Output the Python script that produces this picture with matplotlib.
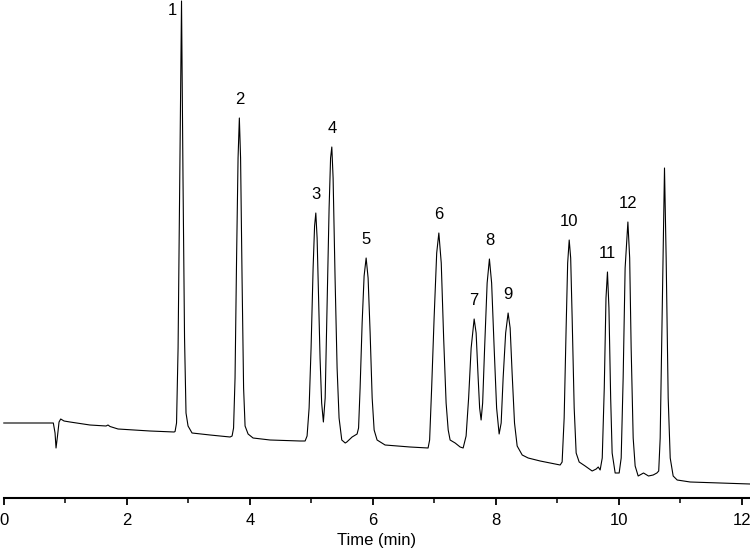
"""
chromatogram, 12 labelled peaks
"""

import matplotlib
matplotlib.use("Agg")
import matplotlib.pyplot as plt
from matplotlib.ticker import MultipleLocator

plt.rcParams['font.family'] = ['Liberation Sans', 'DejaVu Sans']

# trace: time (min) and detector signal (arb. units)
time_min = [
    0.000, 0.805, 0.833, 0.849, 0.873, 0.898, 0.925, 0.979, 1.076, 1.400,
    1.662, 1.694, 1.727, 1.857, 2.377, 2.768,
    # peak 1
    2.784, 2.808, 2.833, 2.857, 2.889, 2.913, 2.938, 2.962, 2.995, 3.060,
    3.353, 3.678,
    # peak 2
    3.711, 3.735, 3.759, 3.784, 3.808, 3.829, 3.849, 3.873, 3.898, 3.922,
    3.971, 4.052, 4.328, 4.816,
    # peaks 3, 4
    4.898, 4.930, 4.963, 4.995, 5.028, 5.052, 5.072, 5.093, 5.117, 5.141,
    5.167, 5.195, 5.224, 5.255, 5.288, 5.312, 5.332, 5.353, 5.385, 5.418,
    5.450, 5.494, 5.550, 5.576, 5.662, 5.743,
    # peak 5
    5.767, 5.792, 5.825, 5.857, 5.890, 5.922, 5.955, 5.988, 6.020, 6.068,
    6.198, 6.604, 6.897,
    # peak 6
    6.922, 6.955, 6.995, 7.037, 7.072, 7.111, 7.150, 7.190, 7.224, 7.255,
    7.337, 7.418, 7.467,
    # peaks 7, 8, 9
    7.515, 7.556, 7.597, 7.646, 7.678, 7.711, 7.735, 7.759, 7.784, 7.816,
    7.857, 7.894, 7.930, 7.971, 8.011, 8.052, 8.085, 8.117, 8.158, 8.198,
    8.231, 8.263, 8.302, 8.345, 8.427, 8.524, 8.719, 9.044,
    # peak 10
    9.076, 9.109, 9.141, 9.166, 9.191, 9.215, 9.239, 9.272, 9.304, 9.353,
    9.450, 9.564, 9.630, 9.663, 9.694,
    # peak 11
    9.728, 9.761, 9.789, 9.813, 9.837, 9.865, 9.889, 9.938, 10.003,
    # peak 12
    10.036, 10.068, 10.100, 10.145, 10.174, 10.198, 10.231, 10.263, 10.312,
    10.399, 10.480, 10.556, 10.616, 10.646,
    # last peak (no label)
    10.670, 10.703, 10.740, 10.767, 10.800, 10.833, 10.881, 10.946, 11.158,
    11.646, 12.130,
]
signal = [
    75, 75, 65, 50, 62, 76, 79, 77, 76, 73,
    72, 73, 71.5, 69, 67, 66,
    66.5, 75, 150, 300, 497, 320, 160, 85, 72, 65,
    63, 61,
    62, 70, 120, 240, 340, 380, 340, 220, 110, 72,
    64, 60, 58, 57,
    57, 62, 90, 150, 230, 272, 285, 260, 200, 140,
    95, 76, 100, 190, 290, 340, 351, 320, 220, 130,
    80, 58, 55, 56, 61, 64,
    70, 110, 175, 222, 240, 220, 165, 100, 68, 58,
    53, 51, 50,
    58, 110, 180, 245, 265, 235, 160, 95, 68, 58,
    55, 51, 50,
    62, 100, 150, 179, 165, 120, 90, 78, 95, 150,
    215, 239, 215, 150, 90, 64, 75, 120, 165, 185,
    170, 125, 75, 52, 43, 40, 37, 33,
    36, 80, 170, 235, 258, 240, 180, 90, 45, 36,
    32, 27, 29, 31, 28,
    40, 110, 200, 226, 190, 100, 45, 25, 25,
    40, 120, 230, 276, 240, 150, 60, 32, 22,
    25, 22, 23, 25, 27,
    60, 190, 330, 240, 100, 40, 22, 18, 16,
    15, 14,
]

# labelled peaks: number, apex time, apex signal
peak_labels = ['1', '2', '3', '4', '5', '6', '7', '8', '9', '10', '11', '12']
peak_times = [2.889, 3.829, 5.072, 5.332, 5.890, 7.072, 7.646, 7.894, 8.198,
              9.191, 9.813, 10.145]
peak_tops = [497, 380, 285, 351, 240, 265, 179, 239, 185, 258, 226, 276]

fig = plt.figure(figsize=(7.5, 5.5), dpi=100)
ax = fig.add_axes([3.8 / 750, 52 / 550, 1 - 3.8 / 750, 498 / 550])

ax.plot(time_min, signal, '-', color='black', lw=0.8, clip_on=False)

for lab, t, top in zip(peak_labels, peak_times, peak_tops):
    if lab == '1':
        # apex touches the top, number sits beside it
        off = (-6.5, -6.5)
    else:
        off = (0, 13.5)
    ax.annotate(lab, (t, top), xytext=off, textcoords='offset points',
                ha='center', va='center', fontsize=12)

ax.set_xlim(0, 12.13)
ax.set_ylim(0, 498)
ax.xaxis.set_major_locator(MultipleLocator(2))
ax.xaxis.set_minor_locator(MultipleLocator(1))
ax.tick_params(axis='x', which='major', length=5, width=1.3, direction='out',
               labelsize=12, pad=5.5)
ax.tick_params(axis='x', which='minor', length=3.5, width=1.1, direction='out')
ax.set_yticks([])
for side in ['left', 'right', 'top']:
    ax.spines[side].set_visible(False)
ax.spines['bottom'].set_linewidth(1.5)
ax.set_xlabel('Time (min)', fontsize=12, labelpad=4)

plt.savefig('out.png', dpi=100)
